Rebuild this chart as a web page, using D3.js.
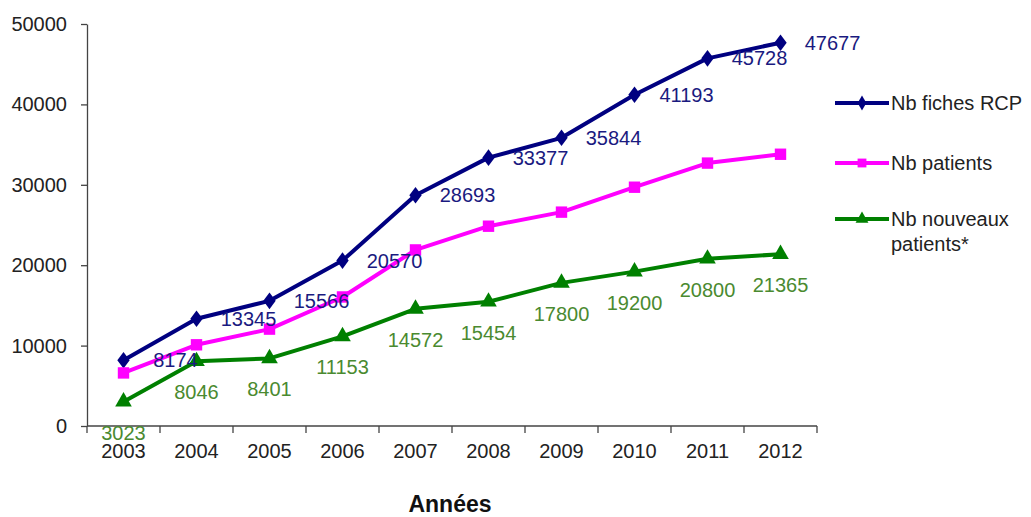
<!DOCTYPE html>
<html lang="fr">
<head>
    <meta charset="utf-8">
    <title>RCP</title>
    <script src="https://d3js.org/d3.v7.min.js"></script>
    <style>
        body { margin: 0; background: #fff; }
        svg { display: block; font-family: "Liberation Sans", Arial, sans-serif; }
        .axis path, .axis line { stroke: #444; stroke-width: 1.3px; }
        .axis text { font-size: 20px; fill: #222; font-family: "Liberation Sans", Arial, sans-serif; }
    </style>
</head>
<body>
<div id="chart"></div>
<script>
"use strict";
var years = ["2003", "2004", "2005", "2006", "2007", "2008", "2009", "2010", "2011", "2012"];
var fiches = [8174, 13345, 15566, 20570, 28693, 33377, 35844, 41193, 45728, 47677];
var patients = [6600, 10100, 12050, 16050, 21900, 24850, 26600, 29700, 32700, 33800];
var nouveaux = [3023, 8046, 8401, 11153, 14572, 15454, 17800, 19200, 20800, 21365];
var yTicks = [0, 10000, 20000, 30000, 40000, 50000];

var svg_width = 1031, svg_height = 517;
var plot_left = 87, plot_right = 817, plot_top = 24, plot_bottom = 426;

var svg = d3.select("#chart").append("svg")
    .attr("width", svg_width)
    .attr("height", svg_height);

var x = d3.scaleBand().domain(years).range([plot_left, plot_right]);
var y = d3.scaleLinear().domain([0, 50000]).range([plot_bottom, plot_top]);

var xaxis = d3.axisBottom(x).tickSize(0).tickPadding(6);
var yaxis = d3.axisLeft(y).tickValues(yTicks).tickFormat(d3.format("d"))
    .tickSize(6).tickSizeOuter(0).tickPadding(14);

svg.append("g")
    .attr("class", "axis")
    .attr("transform", "translate(" + plot_left + ",0)")
    .call(yaxis);

var gx = svg.append("g")
    .attr("class", "axis")
    .attr("transform", "translate(0," + plot_bottom + ")")
    .call(xaxis);
gx.select(".domain").attr("d", "M" + plot_left + ",0H" + plot_right);
// ticks between categories
gx.selectAll(".sep")
    .data(years.concat(["end"]))
    .enter().append("line")
    .attr("class", "sep")
    .attr("x1", function(d, i) { return plot_left + i * x.bandwidth(); })
    .attr("x2", function(d, i) { return plot_left + i * x.bandwidth(); })
    .attr("y1", 0)
    .attr("y2", 7);
gx.selectAll(".tick text").attr("dy", "1.3em");

var series = [
    { name: "Nb fiches RCP", values: fiches, color: "#000080", text: "#1a1a80", symbol: d3.symbolDiamond, size: 110, labels: true, dx: 52, dy: 0 },
    { name: "Nb patients", values: patients, color: "#ff00ff", text: "#ff00ff", symbol: d3.symbolSquare, size: 130, labels: false },
    { name: "Nb nouveaux patients*", values: nouveaux, color: "#008000", text: "#4a8a30", symbol: d3.symbolTriangle, size: 120, labels: true, dx: 0, dy: 31 }
];

var line = d3.line()
    .x(function(d, i) { return x(years[i]) + x.bandwidth() / 2; })
    .y(function(d) { return y(d); });

series.forEach(function(s) {
    svg.append("path")
        .attr("d", line(s.values))
        .attr("fill", "none")
        .attr("stroke", s.color)
        .attr("stroke-width", 4)
        .attr("stroke-linejoin", "round");
    svg.selectAll(null)
        .data(s.values)
        .enter().append("path")
        .attr("d", d3.symbol().type(s.symbol).size(s.size))
        .attr("transform", function(d, i) {
            var sc = s.symbol === d3.symbolDiamond ? "scale(1.1,0.85)" : "";
            return "translate(" + (x(years[i]) + x.bandwidth() / 2) + "," + y(d) + ")" + sc;
        })
        .attr("fill", s.color);
});

series.forEach(function(s) {
    if (!s.labels) return;
    svg.selectAll(null)
        .data(s.values)
        .enter().append("text")
        .attr("x", function(d, i) { return x(years[i]) + x.bandwidth() / 2 + s.dx; })
        .attr("y", function(d) { return y(d) + s.dy; })
        .attr("dy", "0.35em")
        .attr("text-anchor", "middle")
        .attr("font-size", "20px")
        .attr("fill", s.text)
        .text(function(d) { return d; });
});

// legend
var legendY = [103, 163, 219];
var leg = svg.selectAll(".legend")
    .data(series)
    .enter().append("g")
    .attr("class", "legend")
    .attr("transform", function(d, i) { return "translate(835," + legendY[i] + ")"; });
leg.append("line")
    .attr("x1", 0).attr("x2", 54)
    .attr("stroke", function(d) { return d.color; })
    .attr("stroke-width", 4);
leg.append("path")
    .attr("d", function(d) { return d3.symbol().type(d.symbol).size(d.size * 0.6)(); })
    .attr("transform", "translate(27,0)")
    .attr("fill", function(d) { return d.color; });
leg.append("text")
    .attr("x", 56)
    .attr("font-size", "20px")
    .attr("fill", "#222")
    .each(function(d) {
        var t = d3.select(this);
        var parts = d.name === "Nb nouveaux patients*" ? ["Nb nouveaux", "patients*"] : [d.name];
        parts.forEach(function(p, j) {
            t.append("tspan").attr("x", 56).attr("dy", j === 0 ? "0.35em" : "1.25em").text(p);
        });
    });

svg.append("text")
    .attr("x", 450)
    .attr("y", 512)
    .attr("text-anchor", "middle")
    .attr("font-size", "23px")
    .attr("font-weight", "bold")
    .attr("fill", "#111")
    .text("Années");
</script>
</body>
</html>
